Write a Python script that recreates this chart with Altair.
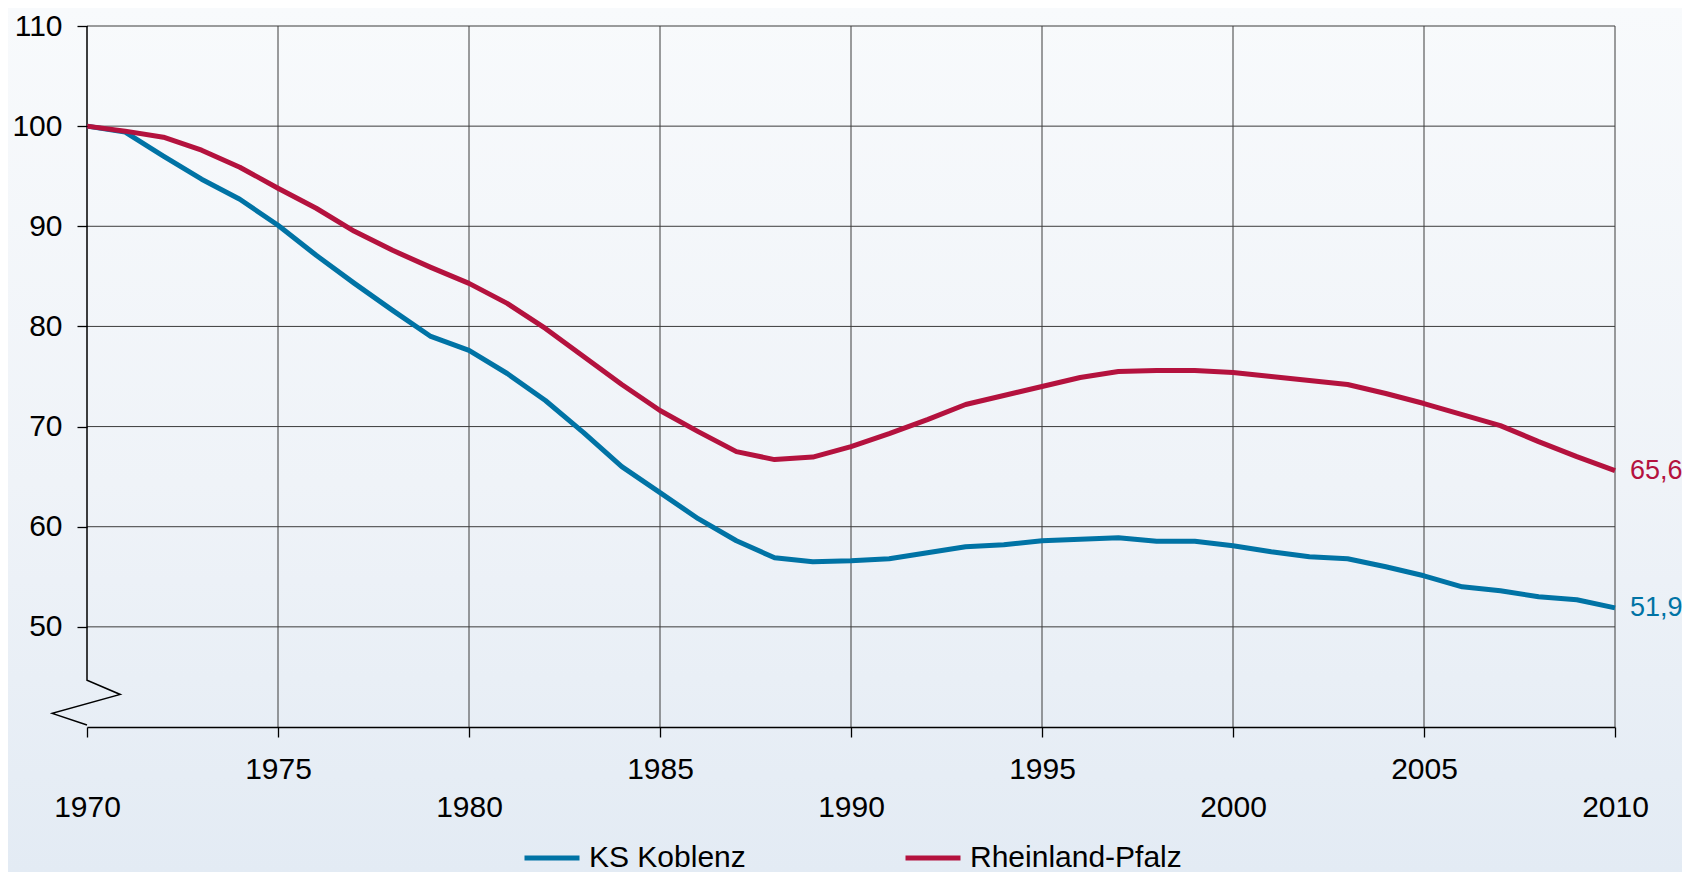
import altair as alt
import pandas as pd

# ---- data ----
years = list(range(1970, 2011))
koblenz = [100.0, 99.4, 97.0, 94.7, 92.7, 90.1, 87.1, 84.3, 81.6, 79.0,
           77.6, 75.3, 72.6, 69.4, 66.0, 63.4, 60.8, 58.6, 56.9, 56.5,
           56.6, 56.8, 57.4, 58.0, 58.2, 58.6, 58.75, 58.9, 58.55, 58.55,
           58.1, 57.5, 57.0, 56.8, 56.0, 55.1, 54.0, 53.6, 53.0, 52.7, 51.9]
rlp = [100.0, 99.5, 98.9, 97.6, 95.9, 93.8, 91.8, 89.5, 87.6, 85.9,
       84.3, 82.3, 79.8, 77.0, 74.2, 71.6, 69.5, 67.5, 66.7, 66.95,
       68.0, 69.3, 70.7, 72.2, 73.1, 74.0, 74.9, 75.5, 75.6, 75.6,
       75.4, 75.0, 74.6, 74.2, 73.3, 72.3, 71.2, 70.1, 68.5, 67.0, 65.6]
series_names = ["KS Koblenz", "Rheinland-Pfalz"]
series_colors = ["#0073a5", "#b4123e"]
end_labels = ["51,9", "65,6"]
x_ticks = list(range(1970, 2011, 5))
x_grid = list(range(1975, 2011, 5))
y_ticks = list(range(50, 111, 10))
# axis break (zig-zag) on the value axis
break_x = [1970, 1970, 1970.87, 1969.09, 1970]
break_y = [110, 44.67, 43.25, 41.36, 40.2]

W, H = 1528, 701
PAD = {"left": 79, "top": 18, "right": 67, "bottom": 145}
FONT = "Liberation Sans, Arial, sans-serif"

df = pd.DataFrame({
    "year": years * 2,
    "value": koblenz + rlp,
    "series": [series_names[0]] * len(years) + [series_names[1]] * len(years),
})
df_end = pd.DataFrame({
    "year": [2010, 2010],
    "value": [koblenz[-1], rlp[-1]],
    "series": series_names,
    "label": end_labels,
})
df_break = pd.DataFrame({"year": break_x, "value": break_y, "i": list(range(len(break_x)))})
df_xgrid = pd.DataFrame({"year": x_grid})
df_ygrid = pd.DataFrame({"value": y_ticks})

x_scale = alt.Scale(domain=[1970, 2010], nice=False, zero=False)
y_scale = alt.Scale(domain=[40, 110], nice=False, zero=False)

x_axis = alt.Axis(
    values=x_ticks, format="d",
    labelExpr="datum.value % 10 == 0 ? ['', datum.label] : datum.label",
    labelFontSize=30, labelFont=FONT, labelColor="#000",
    labelPadding=17, labelLineHeight=38, labelFlush=False, labelOverlap=False, labelBound=False,
    tickSize=10, tickColor="#000", tickWidth=1.3,
    domain=True, domainColor="#000", domainWidth=1.5,
    grid=False, title=None, zindex=1,
)
y_axis = alt.Axis(
    values=y_ticks, labelFontSize=30, labelFont=FONT, labelColor="#000",
    labelPadding=15, labelFlush=False, labelOverlap=False,
    tickSize=10, tickColor="#000", tickWidth=1.3,
    domain=False, grid=False, title=None, zindex=1,
)

X = alt.X("year:Q", scale=x_scale, axis=x_axis)
Y = alt.Y("value:Q", scale=y_scale, axis=y_axis)
color_scale = alt.Scale(domain=series_names, range=series_colors)

bg = alt.Chart(pd.DataFrame({"k": [0]})).mark_rect(
    color=alt.Gradient(
        gradient="linear",
        stops=[alt.GradientStop(color="#f8fafc", offset=0),
               alt.GradientStop(color="#eff3f8", offset=0.55),
               alt.GradientStop(color="#e3ebf4", offset=1)],
        x1=0, x2=0, y1=0, y2=1,
    )
).encode(
    x=alt.value(-PAD["left"]), x2=alt.value(W + PAD["right"]),
    y=alt.value(-PAD["top"]), y2=alt.value(H + PAD["bottom"]),
)

ygrid = alt.Chart(df_ygrid).mark_rule(color="#3c3c3c", strokeWidth=1).encode(
    y=Y, x=alt.value(0), x2=alt.value(W)
)
xgrid = alt.Chart(df_xgrid).mark_rule(color="#3c3c3c", strokeWidth=1).encode(
    x=X, y=alt.value(0), y2=alt.value(H)
)

brk = alt.Chart(df_break).mark_line(color="#000", strokeWidth=1.5).encode(
    x=X, y=Y, order="i:Q"
)

lines = alt.Chart(df).mark_line(strokeWidth=5, strokeJoin="round").encode(
    x=X, y=Y,
    color=alt.Color(
        "series:N", scale=color_scale,
        legend=alt.Legend(
            orient="none", legendX=435, legendY=802, direction="horizontal",
            title=None, symbolType="stroke", symbolStrokeWidth=5, symbolSize=3025,
            labelFontSize=30, labelFont=FONT, labelColor="#000",
            columnPadding=149, labelOffset=7, padding=0, labelLimit=400,
        ),
    ),
)

ends = alt.Chart(df_end).mark_text(
    align="left", baseline="middle", dx=15, fontSize=27, font=FONT
).encode(
    x=X, y=Y, text="label:N",
    color=alt.Color("series:N", scale=color_scale, legend=None),
)

chart = alt.layer(bg, ygrid, xgrid, brk, lines, ends).properties(
    width=W, height=H, padding=PAD,
    autosize=alt.AutoSizeParams(type="none"),
    background="#eef3f8",
).configure_view(strokeWidth=0)

chart.save("out.html", embed_options={"renderer": "svg", "actions": False})
